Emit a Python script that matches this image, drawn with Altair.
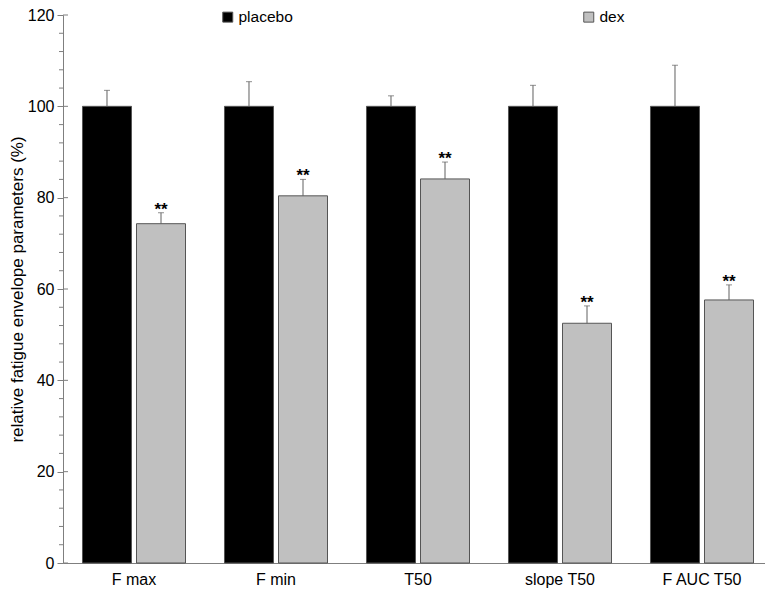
import altair as alt
import pandas as pd

categories = ["F max", "F min", "T50", "slope T50", "F AUC T50"]
groups = ["placebo", "dex"]
placebo_vals = [100, 100, 100, 100, 100]
placebo_err = [3.5, 5.4, 2.3, 4.6, 9.0]
dex_vals = [74.3, 80.4, 84.1, 52.5, 57.6]
dex_err = [2.4, 3.6, 3.7, 3.8, 3.3]
dex_marks = ["**", "**", "**", "**", "**"]
major_ticks = [0, 20, 40, 60, 80, 100, 120]
minor_ticks = [v for v in range(0, 121, 4) if v % 20 != 0]

rows = []
for i, c in enumerate(categories):
    rows.append({"category": c, "group": "placebo", "value": placebo_vals[i],
                 "top": placebo_vals[i] + placebo_err[i], "star": ""})
    rows.append({"category": c, "group": "dex", "value": dex_vals[i],
                 "top": dex_vals[i] + dex_err[i], "star": dex_marks[i]})
df = pd.DataFrame(rows)

FONT = "Liberation Sans"
GRAY = "#7f7f7f"
TITLE = "relative fatigue envelope parameters (%)"
PLOT_H = 548

yaxis = alt.Axis(values=major_ticks, title=TITLE, grid=False, tickSize=6,
                 tickColor=GRAY, domainColor=GRAY, labelFontSize=16,
                 labelPadding=3, labelColor="black", labelFont=FONT,
                 titleFont=FONT, titleFontSize=17, titleFontWeight="normal",
                 titleColor="black", titleX=-37, titleY=PLOT_H / 2,
                 titleAngle=270, titleBaseline="bottom", titleAlign="center")
yscale = alt.Scale(domain=[0, 120], nice=False, zero=True)


def Y(field):
    return alt.Y(field, type="quantitative", scale=yscale, axis=yaxis, title=TITLE)


x = alt.X("category:N", sort=categories,
          scale=alt.Scale(paddingInner=0, paddingOuter=0),
          axis=alt.Axis(title=None, labelAngle=0, ticks=False, labelFontSize=16,
                        labelPadding=8, domainColor=GRAY, labelColor="black",
                        labelFont=FONT))
xo = alt.XOffset("group:N", sort=groups,
                 scale=alt.Scale(domain=groups, paddingInner=0.0926, paddingOuter=0.361))

base = alt.Chart(df)

bars = base.mark_bar(stroke="#555555", strokeWidth=1).encode(
    x=x, xOffset=xo, y=Y("value"),
    fill=alt.Fill("group:N", scale=alt.Scale(domain=groups, range=["black", "#c0c0c0"]),
                  legend=alt.Legend(title=None, orient="none", legendX=157, legendY=-6,
                                    direction="horizontal", columns=2, columnPadding=288,
                                    symbolType="square", symbolSize=100,
                                    symbolStrokeColor="#555555", symbolStrokeWidth=1,
                                    labelFontSize=15.5, labelFont=FONT, labelColor="black",
                                    labelOffset=3))
)

err = base.mark_rule(color="#606060", strokeWidth=1).encode(
    x=x, xOffset=xo, y=Y("value"), y2="top:Q")

caps = base.mark_tick(color="#606060", thickness=1, size=6, orient="horizontal").encode(
    x=x, xOffset=xo, y=Y("top"))

stars = base.transform_filter(alt.datum.star != "").mark_text(
    fontSize=17, fontWeight="bold", font=FONT, baseline="alphabetic", dy=2, color="black"
).encode(x=x, xOffset=xo, y=Y("top"), text="star:N")

major_df = pd.DataFrame({"v": major_ticks})
minor_df = pd.DataFrame({"v": minor_ticks})
major_in = alt.Chart(major_df).mark_rule(color=GRAY).encode(
    y=Y("v"), x=alt.value(0), x2=alt.value(5))
minor_out = alt.Chart(minor_df).mark_rule(color=GRAY).encode(
    y=Y("v"), x=alt.value(-4), x2=alt.value(0))

chart = alt.layer(bars, err, caps, stars, major_in, minor_out).properties(
    width=710, height=PLOT_H, autosize="none",
    padding={"left": 55, "top": 7, "right": -8, "bottom": 26}
).configure_view(stroke=None)

chart.save("out.html", embed_options={"renderer": "svg", "actions": False})
